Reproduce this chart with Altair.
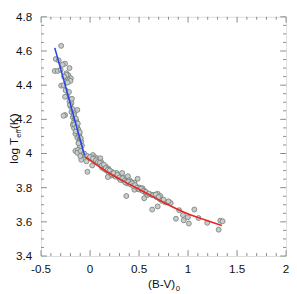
import altair as alt
import pandas as pd

# observed stars: (B-V)_0 and log Teff
star_bv = [
    -0.295, -0.35, -0.255, -0.28, -0.36, -0.33, -0.21, -0.242, -0.222, -0.196,
    -0.222, -0.25, -0.2, -0.295, -0.27, -0.25, -0.235, -0.255, -0.21, -0.19,
    -0.2, -0.13, -0.255, -0.27, -0.19, -0.163, -0.176, -0.156, -0.17, -0.136,
    -0.15, -0.176, -0.13, -0.163, -0.123, -0.15, -0.11, -0.13, -0.103, -0.09,
    -0.116, -0.083, -0.103, -0.15, -0.123, -0.13, -0.096, -0.09, -0.04, 0.01,
    -0.14, -0.16, -0.12, -0.145, -0.11, -0.24, -0.08, -0.06, -0.1,
    -0.027, -0.004, -0.037, 0.016, 0.029, 0.049, 0.039, 0.072, 0.089, 0.105,
    0.062, 0.022, -0.027, 0.115, 0.095, 0.138, 0.122, 0.161, 0.148, 0.171,
    0.188, 0.194, 0.221, 0.237, 0.254, 0.27, 0.214, 0.181, 0.287, 0.304,
    0.32, 0.337, 0.327, 0.353, 0.37, 0.386, 0.38, 0.403, 0.419, 0.436,
    0.452, 0.469, 0.485, 0.479, 0.452, 0.502, 0.519, 0.535, 0.552, 0.568,
    0.37, 0.585, 0.618, 0.552, 0.651, 0.677, 0.69, 0.717, 0.71, 0.733,
    0.767, 0.79, 0.823, 0.634, 0.69, 0.909, 1.064, 0.876, 0.948, 0.998,
    0.955, 1.008, 1.107, 1.196, 1.329, 1.352, 1.312,
    0.0, 0.03, 0.06, 0.08, 0.1, 0.12, 0.14, 0.16, 0.18, 0.2,
    0.22, 0.24, 0.26, 0.28, 0.3, 0.31, 0.33, 0.35, 0.36, 0.39,
    0.41, 0.43, 0.44, 0.46, 0.48, 0.5, 0.52, 0.54, 0.57, 0.6,
    0.64, 0.67, 0.7, 0.75, 0.8,
    -0.32, -0.3, -0.265, -0.23, -0.215, -0.185, -0.205, -0.18, -0.165, -0.145,
    -0.125, -0.105, -0.095, -0.14, -0.118,
]
star_logt = [
    4.63, 4.553, 4.526, 4.52, 4.483, 4.483, 4.50, 4.47, 4.458, 4.44,
    4.43, 4.447, 4.425, 4.397, 4.40, 4.37, 4.336, 4.332, 4.304, 4.295,
    4.277, 4.255, 4.225, 4.221, 4.243, 4.236, 4.212, 4.2, 4.18, 4.18,
    4.162, 4.166, 4.151, 4.148, 4.129, 4.115, 4.11, 4.092, 4.083, 4.07,
    4.065, 4.046, 4.04, 4.015, 4.022, 4.004, 4.015, 3.963, 3.985, 3.978,
    4.19, 4.17, 4.14, 4.13, 4.1, 4.46, 3.99, 4.0, 3.985,
    3.985, 3.972, 3.954, 3.982, 3.991, 3.978, 3.963, 3.972, 3.963, 3.972,
    3.954, 3.93, 3.893, 3.948, 3.941, 3.926, 3.917, 3.923, 3.908, 3.899,
    3.911, 3.886, 3.893, 3.88, 3.871, 3.886, 3.871, 3.862, 3.862, 3.852,
    3.871, 3.843, 3.886, 3.856, 3.838, 3.867, 3.825, 3.843, 3.834, 3.819,
    3.83, 3.806, 3.852, 3.793, 3.788, 3.801, 3.788, 3.797, 3.782, 3.769,
    3.751, 3.757, 3.76, 3.738, 3.757, 3.745, 3.764, 3.751, 3.733, 3.723,
    3.714, 3.714, 3.71, 3.672, 3.69, 3.668, 3.672, 3.618, 3.64, 3.627,
    3.609, 3.59, 3.622, 3.594, 3.607, 3.603, 3.554,
    3.98, 3.97, 3.96, 3.95, 3.945, 3.93, 3.935, 3.915, 3.905, 3.9,
    3.88, 3.885, 3.865, 3.875, 3.86, 3.845, 3.855, 3.84, 3.83, 3.835,
    3.82, 3.825, 3.81, 3.815, 3.8, 3.79, 3.795, 3.78, 3.775, 3.765,
    3.755, 3.76, 3.745, 3.73, 3.72,
    4.545, 4.49, 4.45, 4.415, 4.36, 4.32, 4.285, 4.26, 4.225, 4.205,
    4.175, 4.125, 4.09, 4.155, 4.06,
]

# fitted relations
blue_bv = [-0.36, -0.25, -0.15, -0.057]
blue_logt = [4.618, 4.392, 4.183, 3.99]
red_bv = [-0.05, 0.155, 0.353, 0.552, 0.75, 0.948, 1.147, 1.345]
red_logt = [3.98, 3.899, 3.834, 3.775, 3.714, 3.659, 3.616, 3.579]

# axis ticks and tick labels
x_major = [-0.5, 0, 0.5, 1, 1.5, 2]
x_labels = ["-0.5", "0", "0.5", "1", "1.5", "2"]
x_minor = [-0.4, -0.3, -0.2, -0.1, 0.1, 0.2, 0.3, 0.4, 0.6, 0.7, 0.8, 0.9,
           1.1, 1.2, 1.3, 1.4, 1.6, 1.7, 1.8, 1.9]
y_major = [3.4, 3.6, 3.8, 4, 4.2, 4.4, 4.6, 4.8]
y_labels = ["3.4", "3.6", "3.8", "4", "4.2", "4.4", "4.6", "4.8"]
y_minor = [3.45, 3.5, 3.55, 3.65, 3.7, 3.75, 3.85, 3.9, 3.95, 4.05, 4.1, 4.15,
           4.25, 4.3, 4.35, 4.45, 4.5, 4.55, 4.65, 4.7, 4.75]

W, H = 252, 246
TOP = 5
FRAME = "#7f8c8a"
FONT = "Liberation Sans"
TXT = "#111111"

xs = alt.Scale(domain=[-0.5, 2], nice=False, zero=False)
ys = alt.Scale(domain=[3.4, 4.8], nice=False, zero=False)


def X(field):
    return alt.X(field, type="quantitative", scale=xs, axis=None)


def Y(field):
    return alt.Y(field, type="quantitative", scale=ys, axis=None)


stars = pd.DataFrame({"bv": star_bv, "logt": star_logt})
points = alt.Chart(stars).mark_point(
    shape="circle", filled=True, size=26, fill="#c9cdca", stroke="#6f7a77",
    strokeWidth=0.8, opacity=1
).encode(x=X("bv"), y=Y("logt"))

blue = alt.Chart(pd.DataFrame({"bv": blue_bv, "logt": blue_logt})).mark_line(
    color="#2a45e6", strokeWidth=1.6
).encode(x=X("bv"), y=Y("logt"))

red = alt.Chart(pd.DataFrame({"bv": red_bv, "logt": red_logt})).mark_line(
    color="#ec2424", strokeWidth=1.6, interpolate="monotone"
).encode(x=X("bv"), y=Y("logt"))


def xticks(vals, length):
    d = alt.Chart(pd.DataFrame({"v": vals}))
    bottom = d.mark_rule(color=FRAME, strokeWidth=1).encode(
        x=X("v"), y=alt.value(H), y2=alt.value(H - length))
    top = d.mark_rule(color=FRAME, strokeWidth=1).encode(
        x=X("v"), y=alt.value(0), y2=alt.value(length))
    return [bottom, top]


def yticks(vals, length):
    d = alt.Chart(pd.DataFrame({"v": vals}))
    left = d.mark_rule(color=FRAME, strokeWidth=1).encode(
        y=Y("v"), x=alt.value(0), x2=alt.value(length))
    right = d.mark_rule(color=FRAME, strokeWidth=1).encode(
        y=Y("v"), x=alt.value(W), x2=alt.value(W - length))
    return [left, right]


x_tick_labels = alt.Chart(pd.DataFrame({"v": x_major, "t": x_labels})).mark_text(
    fontSize=12, font=FONT, color=TXT, align="center", baseline="middle"
).encode(x=X("v"), y=alt.value(H + 13), text="t:N")

y_tick_labels = alt.Chart(pd.DataFrame({"v": y_major, "t": y_labels})).mark_text(
    fontSize=12, font=FONT, color=TXT, align="right", baseline="middle"
).encode(y=Y("v"), x=alt.value(-9), text="t:N")

one = pd.DataFrame({"a": [0]})


def label(text, x, y, size, align, angle=0, baseline="alphabetic"):
    return alt.Chart(one).mark_text(
        text=text, fontSize=size, font=FONT, color=TXT, align=align,
        baseline=baseline, angle=angle
    ).encode(x=alt.value(x), y=alt.value(y))


# x title "(B-V)0"
xt_base = H + 33
x_title = [
    label("(B-V)", 138, xt_base, 12, "right"),
    label("0", 138.5, xt_base + 3, 8, "left"),
]
# y title "log Teff (K)" rotated
yc = H / 2
tx = -24
y_title = [
    label("log T", tx, yc + 28, 12, "left", angle=270),
    label("eff", tx + 3, yc + 1.3, 8, "left", angle=270),
    label(" (K)", tx, yc - 7.6, 12, "left", angle=270),
]

layers = [points] + xticks(x_major, 6) + xticks(x_minor, 3) \
    + yticks(y_major, 6) + yticks(y_minor, 3) + [blue, red] \
    + [x_tick_labels, y_tick_labels] + x_title + y_title

chart = alt.layer(*layers).properties(
    width=W, height=H, autosize="none",
    padding={"left": 34, "top": TOP, "right": 3, "bottom": 35},
).configure_view(stroke=FRAME, strokeWidth=1).configure(background="white")

chart.save("out.html", embed_options={"renderer": "svg", "actions": False})
